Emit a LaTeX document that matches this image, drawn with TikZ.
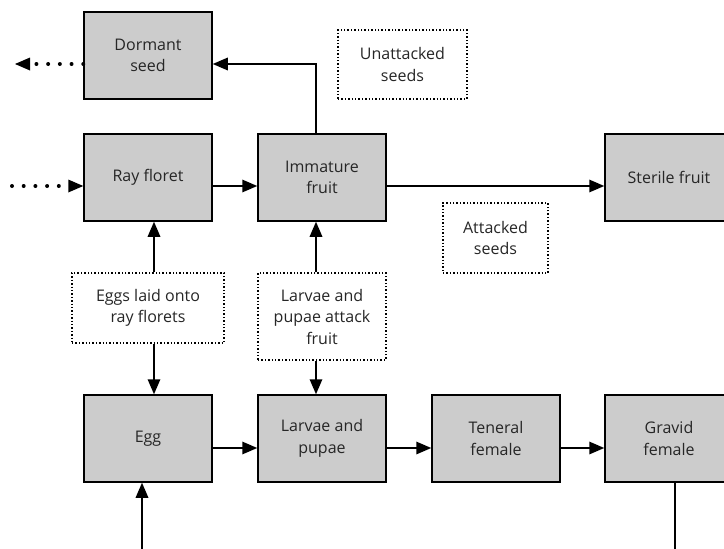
\documentclass[tikz,border=0pt]{standalone}
\usepackage{fontspec}
\setmainfont{Open Sans}
\usepackage{tikz}
\usetikzlibrary{arrows.meta,positioning}
\definecolor{stagegray}{HTML}{CCCCCC}
\definecolor{labeltext}{HTML}{262626}

\begin{document}
\begin{tikzpicture}[
    x=1pt, y=-1pt,
    stage/.style={draw, line width=1.5pt, rectangle, fill=stagegray, minimum width=128pt, minimum height=87pt, align=center, text=labeltext, font=\fontsize{16}{21.5}\selectfont},
    event/.style={draw, line width=1.4pt, dotted, rectangle, fill=white, align=center, text=labeltext, font=\fontsize{16}{21.5}\selectfont},
    arr/.style={-{Triangle[length=15pt, width=12.5pt]}, line width=1.6pt},
    flow/.style={-{Triangle[length=15pt, width=13pt, line width=0pt]}, line width=4pt, line cap=round, dash pattern=on 0pt off 11.7pt}
]

% Frame
\clip (0,0) rectangle (724,549);

% Plant stages
\node[stage] (dormant) at (148,55.5) {Dormant\\seed};
\node[stage] (ray) at (148,177.5) {Ray floret};
\node[stage] (imm) at (322,177.5) {Immature\\fruit};
\node[stage] (sterile) at (669,177.5) {Sterile fruit};

% Insect stages
\node[stage] (egg) at (148,438.5) {Egg};
\node[stage] (larvae) at (322,438.5) {Larvae and\\pupae};
\node[stage] (teneral) at (496,438.5) {Teneral\\female};
\node[stage] (gravid) at (669,438.5) {Gravid\\female};

% Interaction events
\node[event, minimum width=152pt, minimum height=70pt] (oviposit) at (148,308) {Eggs laid onto\\ray florets};
\node[event, minimum width=128pt, minimum height=87pt] (attack) at (322,316.5) {Larvae and\\pupae attack\\fruit};
\node[event, minimum width=129pt, minimum height=69pt] (unatt) at (402.5,64.5) {Unattacked\\seeds};
\node[event, minimum width=105pt, minimum height=70pt] (att) at (495.5,238) {Attacked\\seeds};

% Free ends
\coordinate (seedout) at (15,64);
\coordinate (florin) at (12,186);
\coordinate (eggin) at (142,549);
\coordinate (gravidout) at (675,549);

% Plant flows
\draw[flow] (florin) -- ([yshift=-8.5pt]ray.west);
\draw[flow] ([yshift=-8.5pt]dormant.west) -- (seedout);
\draw[arr] ([yshift=-8.5pt]ray.east) -- ([yshift=-8.5pt]imm.west);
\draw[arr] ([yshift=-8.5pt]imm.east) -- ([yshift=-8.5pt]sterile.west);
\draw[arr] ([xshift=-6pt]imm.north) |- ([yshift=-8.5pt]dormant.east);

% Insect flows
\draw[arr] ([yshift=-9.5pt]egg.east) -- ([yshift=-9.5pt]larvae.west);
\draw[arr] ([yshift=-9.5pt]larvae.east) -- ([yshift=-9.5pt]teneral.west);
\draw[arr] ([yshift=-9.5pt]teneral.east) -- ([yshift=-9.5pt]gravid.west);
\draw[arr] (eggin) -- ([xshift=-6pt]egg.south);
\draw[line width=1.6pt] ([xshift=6pt]gravid.south) -- (gravidout);

% Links through events
\draw[arr] ([xshift=6pt]oviposit.north) -- ([xshift=6pt]ray.south);
\draw[arr] ([xshift=6pt]oviposit.south) -- ([xshift=6pt]egg.north);
\draw[arr] ([xshift=-6pt]attack.north) -- ([xshift=-6pt]imm.south);
\draw[arr] ([xshift=-6pt]attack.south) -- ([xshift=-6pt]larvae.north);

\end{tikzpicture}
\end{document}
